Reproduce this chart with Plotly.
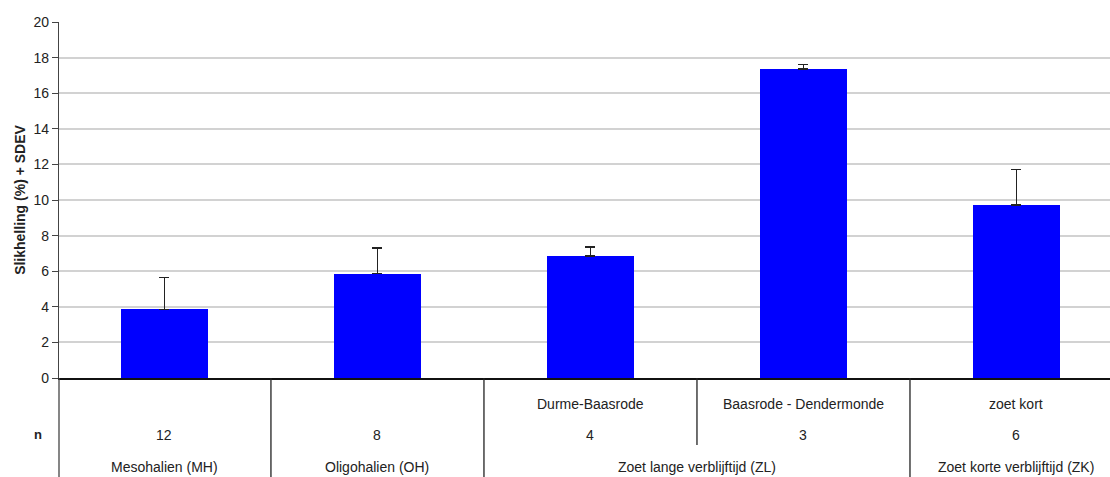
import plotly.graph_objects as go

# Slikhelling per zone (mean + standard deviation)
sub_labels = ["", "", "Durme-Baasrode", "Baasrode - Dendermonde", "zoet kort"]
n_values = ["12", "8", "4", "3", "6"]
groups = ["Mesohalien (MH)", "Oligohalien (OH)", "Zoet lange verblijftijd (ZL)", "Zoet korte verblijftijd (ZK)"]
group_spans = [1, 1, 2, 1]
means = [3.86, 5.87, 6.85, 17.37, 9.73]
sdev = [1.78, 1.42, 0.51, 0.23, 1.98]
y_ticks = [0, 2, 4, 6, 8, 10, 12, 14, 16, 18, 20]

pos = list(range(len(means)))
FONT = "Liberation Sans, Arial, sans-serif"
TXT = dict(size=14, color="#222222", family=FONT)

fig = go.Figure()
fig.add_trace(go.Bar(
    x=pos, y=means, width=0.405,
    marker=dict(color="#0000FF", line=dict(width=0)),
    error_y=dict(type="data", array=sdev, arrayminus=[0] * len(sdev), symmetric=False,
                 color="#222222", thickness=1.5, width=5),
    showlegend=False,
))

# table below the axis: labels, n row and group row
row_sub, row_n, row_grp, bottom = -0.073, -0.160, -0.250, -0.30
shapes = []
annotations = []
for i, (s, n) in enumerate(zip(sub_labels, n_values)):
    if s:
        annotations.append(dict(x=i, y=row_sub, xref="x", yref="paper", yanchor="middle", text=s,
                                showarrow=False, font=TXT))
    annotations.append(dict(x=i, y=row_n, xref="x", yref="paper", yanchor="middle", text=n,
                            showarrow=False, font=TXT))

start = 0
for g, span in zip(groups, group_spans):
    centre = start + (span - 1) / 2
    annotations.append(dict(x=centre, y=row_grp, xref="x", yref="paper", yanchor="middle", text=g,
                            showarrow=False, font=TXT))
    # separators inside a group stop above the group row
    for k in range(1, span):
        shapes.append(dict(type="line", xref="x", yref="paper", x0=start + k - 0.5, x1=start + k - 0.5,
                           y0=0, y1=-0.188, line=dict(color="#222222", width=1.3)))
    start += span
    if start < len(means):
        shapes.append(dict(type="line", xref="x", yref="paper", x0=start - 0.5, x1=start - 0.5,
                           y0=0, y1=bottom, line=dict(color="#222222", width=1.3)))

# y axis line continues through the table
shapes.append(dict(type="line", xref="paper", yref="paper", x0=0, x1=0, y0=0, y1=bottom,
                   line=dict(color="#444444", width=1.3)))

annotations.append(dict(x=-0.0257, y=row_n, xref="paper", yref="paper", yanchor="middle", text="<b>n</b>",
                        showarrow=False, font=dict(size=13, color="#222222", family=FONT)))

fig.update_layout(
    width=1110, height=477,
    margin=dict(l=59, r=0, t=22, b=99),
    paper_bgcolor="white", plot_bgcolor="white",
    font=dict(family=FONT, size=14, color="#222222"),
    xaxis=dict(range=[-0.495, 4.439], showticklabels=False, showgrid=False, zeroline=False,
               showline=True, linecolor="#111111", linewidth=1.5, ticks=""),
    yaxis=dict(range=[0, 20], tickvals=y_ticks, showgrid=True, gridcolor="#d2d2d2", gridwidth=1.5,
               zeroline=False, showline=True, linecolor="#444444", linewidth=1.3,
               ticks="outside", ticklen=6, tickcolor="#444444", tickfont=dict(size=14, color="#222222"),
               title=dict(text="<b>Slikhelling (%) + SDEV</b>", font=dict(size=14, color="#222222"),
                          standoff=4)),
    shapes=shapes, annotations=annotations,
    bargap=0,
)

fig.write_html("out.html")
